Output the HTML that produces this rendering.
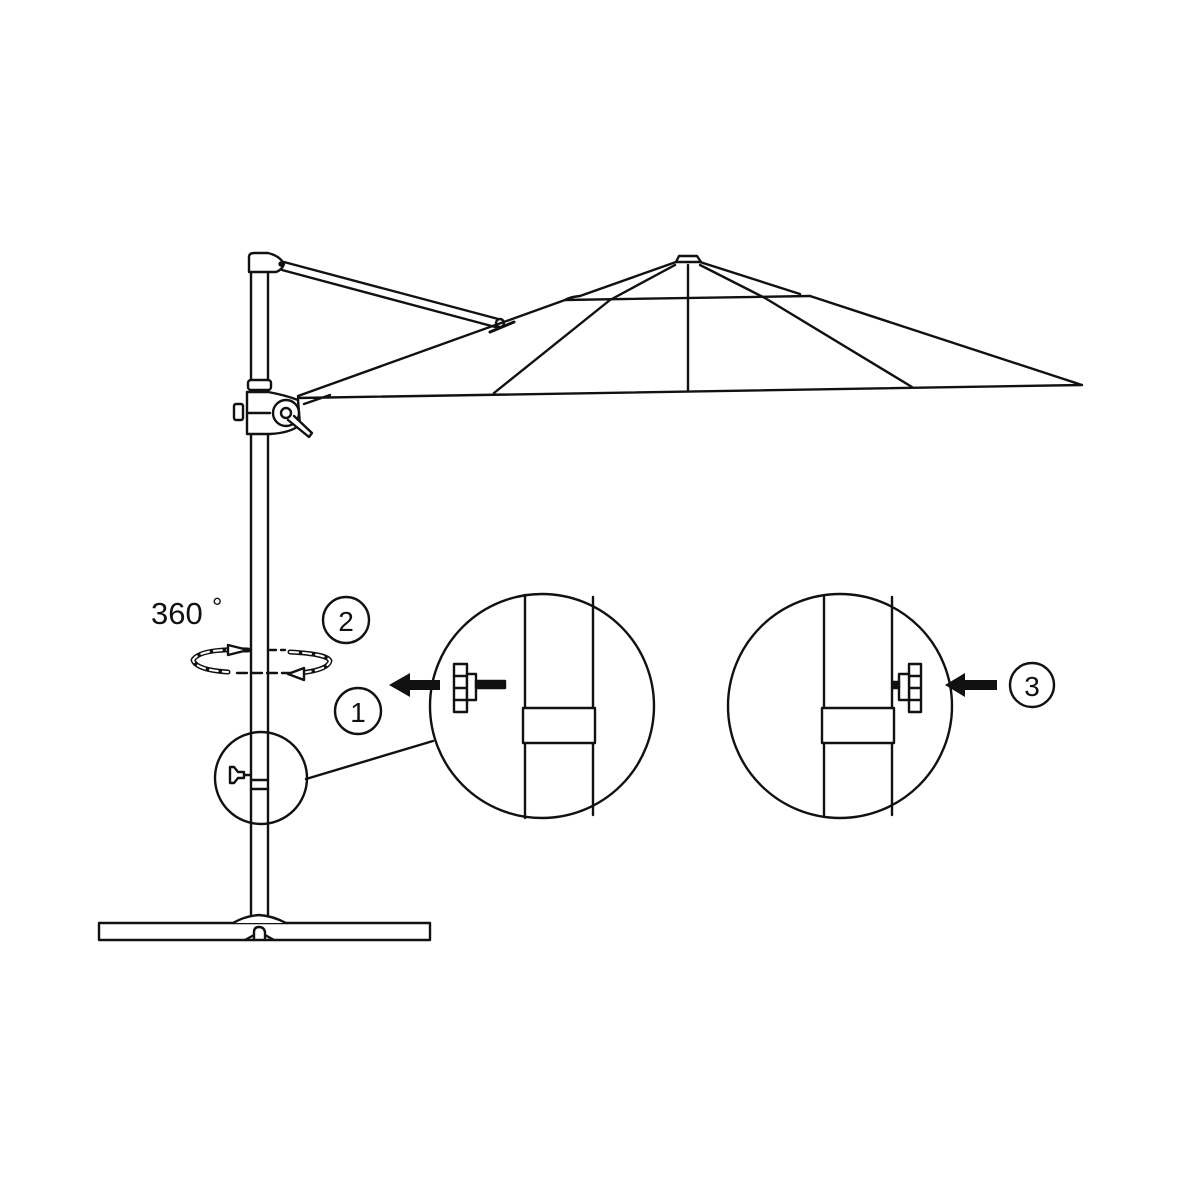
<!DOCTYPE html>
<html><head><meta charset="utf-8"><style>body{margin:0;background:#fff}svg{display:block}</style></head>
<body>
<svg width="1200" height="1200" viewBox="0 0 1200 1200" xmlns="http://www.w3.org/2000/svg" fill="none" stroke="#111" stroke-width="2.4" stroke-linejoin="round" stroke-linecap="round">
<!-- pole -->
<line x1="251" y1="268" x2="251" y2="922"/>
<line x1="268" y1="268" x2="268" y2="922"/>
<!-- top cap -->
<path d="M249,270 L249,256 Q250,253 254,253 L268,253 Q280,256 284,264 Q282,270 276,272 L249,272 Z" fill="#fff"/>
<circle cx="281" cy="264" r="1.5" fill="#111"/>
<!-- strut -->
<line x1="284" y1="262" x2="502" y2="320"/>
<line x1="282" y1="270" x2="499" y2="328"/>
<circle cx="500" cy="323" r="4" fill="#fff"/>
<path d="M490,332 L514,322" stroke-width="3"/>
<!-- collar -->
<rect x="248" y="380" width="23" height="10" rx="3" fill="#fff"/>
<!-- hub -->
<path d="M247,392 L268,392 Q285,395 298,400 L300,425 Q290,433 270,434 L247,434 Z" fill="#fff"/>
<line x1="247" y1="413" x2="270" y2="413"/>
<rect x="234" y="404" width="9" height="16" rx="2" fill="#fff"/>
<circle cx="286" cy="413" r="13" fill="#fff"/>
<circle cx="286" cy="413" r="5" fill="#fff"/>
<path d="M288,420 L309,437 L312,433 L294,416" fill="#fff"/>
<!-- canopy -->
<path d="M298,396 L565,300 M298,398 L1082,385 M810,296 L1082,385 M304,404 L330,395"/>
<path d="M565,300 L810,296 M565,300 Q570,297 580,296 L676,262 M800,294 L700,262"/>
<path d="M676,262 L679,256 L697,256 L701,262 Z" fill="#fff"/>
<path d="M494,393 L610,300 L675,265 M688,390 L688,265 M912,387 L765,298 L700,265"/>
<!-- 360 label -->
<text x="151" y="624" font-family="Liberation Sans, sans-serif" font-size="31" fill="#111" stroke="none">360</text>
<text x="212" y="616" font-family="Liberation Sans, sans-serif" font-size="26" fill="#111" stroke="none">°</text>
<!-- rotation arrows -->
<path d="M248,650 Q200,648 193,660 Q196,670 228,672" stroke-width="5"/>
<path d="M248,650 Q200,648 193,660 Q196,670 228,672" stroke="#fff" stroke-width="2" stroke-dasharray="8 5"/>
<path d="M228,645 L248,650 L228,655 Z" fill="#fff"/>
<path d="M290,652 Q328,654 330,661 Q328,670 300,673" stroke-width="5"/>
<path d="M290,652 Q328,654 330,661 Q328,670 300,673" stroke="#fff" stroke-width="2" stroke-dasharray="8 5"/>
<path d="M304,668 L288,674 L304,680 Z" fill="#fff"/>
<line x1="270" y1="650" x2="285" y2="650" stroke-dasharray="6 5"/>
<line x1="237" y1="673" x2="290" y2="673" stroke-dasharray="10 5"/>
<!-- numbered circles -->
<circle cx="346" cy="620" r="23"/>
<text x="346" y="631" text-anchor="middle" font-family="Liberation Sans, sans-serif" font-size="28" fill="#111" stroke="none">2</text>
<circle cx="358" cy="711" r="23"/>
<text x="358" y="722" text-anchor="middle" font-family="Liberation Sans, sans-serif" font-size="28" fill="#111" stroke="none">1</text>
<circle cx="1032" cy="685" r="22"/>
<text x="1032" y="696" text-anchor="middle" font-family="Liberation Sans, sans-serif" font-size="28" fill="#111" stroke="none">3</text>
<!-- small detail circle -->
<circle cx="261" cy="778" r="46"/>
<line x1="251" y1="780" x2="268" y2="780"/>
<line x1="251" y1="789" x2="268" y2="789"/>
<path d="M230,767 L234,767 L238,772 L244,772 L244,778 L238,778 L234,783 L230,783 Z"/>
<line x1="244" y1="775" x2="251" y2="775"/>
<line x1="306" y1="779" x2="433" y2="741"/>
<!-- left big circle -->
<circle cx="542" cy="706" r="112"/>
<line x1="525" y1="595" x2="525" y2="818"/>
<line x1="593" y1="597" x2="593" y2="815"/>
<rect x="523" y="708" width="72" height="35" fill="#fff"/>
<rect x="454" y="664" width="13" height="48" fill="#fff"/>
<line x1="454" y1="676" x2="467" y2="676"/><line x1="454" y1="688" x2="467" y2="688"/><line x1="454" y1="700" x2="467" y2="700"/>
<rect x="467" y="674" width="9" height="26" fill="#fff"/>
<rect x="476" y="681" width="29" height="7" fill="#111"/>
<rect x="408" y="680" width="32" height="10" fill="#111" stroke="none"/>
<path d="M389,685 L410,673 L410,697 Z" fill="#111" stroke="none"/>
<!-- right big circle -->
<circle cx="840" cy="706" r="112"/>
<line x1="824" y1="597" x2="824" y2="815"/>
<line x1="892" y1="597" x2="892" y2="815"/>
<rect x="822" y="708" width="72" height="35" fill="#fff"/>
<rect x="909" y="664" width="12" height="48" fill="#fff"/>
<line x1="909" y1="676" x2="921" y2="676"/><line x1="909" y1="688" x2="921" y2="688"/><line x1="909" y1="700" x2="921" y2="700"/>
<rect x="899" y="674" width="10" height="26" fill="#fff"/>
<rect x="893" y="682" width="6" height="6" fill="#111"/>
<rect x="960" y="680" width="37" height="10" fill="#111" stroke="none"/>
<path d="M945,685 L965,673 L965,697 Z" fill="#111" stroke="none"/>
<!-- base -->
<rect x="99" y="923" width="331" height="17" fill="#fff"/>
<path d="M233,923 Q245,916 259,915 Q273,916 286,923" fill="#fff"/>
<path d="M254,940 L254,932 Q254,927 259,927 Q264,927 265,932 L265,940 M245,940 L254,935 M265,935 L274,940"/>
</svg>
</body></html>
